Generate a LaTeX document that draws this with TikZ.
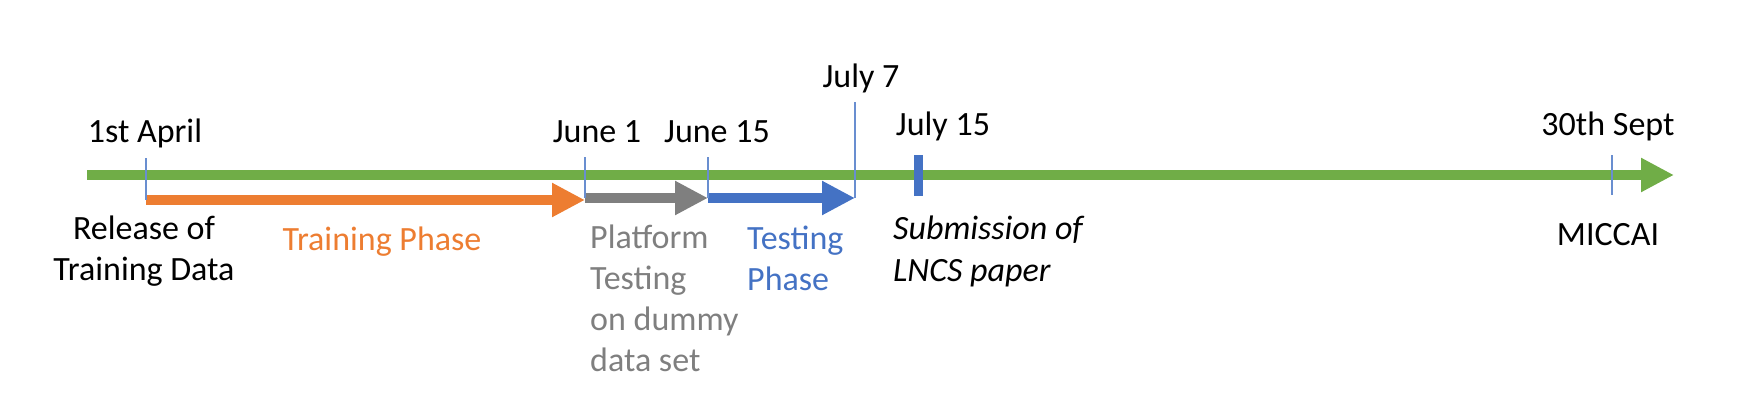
\documentclass[tikz,border=0pt]{standalone}
\usepackage{fontspec}
\setmainfont{Carlito}
\usetikzlibrary{arrows.meta}

\definecolor{axisgreen}{HTML}{70AD47}
\definecolor{trainorange}{HTML}{ED7D31}
\definecolor{platgray}{HTML}{7F7F7F}
\definecolor{testblue}{HTML}{4472C4}

\begin{document}
\begin{tikzpicture}[x=1pt, y=-1pt,
    txt/.style={font=\fontsize{34}{41}\selectfont, inner sep=0pt, anchor=base},
    phasearrow/.style={line width=10pt, -{Triangle[length=33pt,width=32pt]}},
    datemark/.style={draw=testblue!80, line width=1.2pt}]

        % Fix the page size to the reference
        \useasboundingbox (0,0) rectangle (1742,404);

        % Points on the time line (top and bottom of each date mark)
        \foreach \name/\x/\top/\bot in {apr/146/158/200, junA/585/157/198,
                junB/708/157/198, julA/855/102/198, julB/918/155/196, sep/1612/155/195} {
            \coordinate (\name-t) at (\x,\top);
            \coordinate (\name-b) at (\x,\bot);
        }
        \coordinate (start) at (87,175);
        \coordinate (end) at (1674,175);

        % Draw the main time line
        \draw[phasearrow, axisgreen] (start) -- (end);

        % Draw the phases
        \draw[phasearrow, trainorange] (apr-b) -- (junA-b |- 0,200);
        \draw[phasearrow, platgray] (junA-b) -- (junB-b);
        \draw[phasearrow, testblue] (junB-b) -- (julA-b);

        % Date marks
        \foreach \name in {apr, junA, junB, julA, sep}
            \draw[datemark] (\name-t) -- (\name-b);
        \draw[testblue, line width=9pt] (julB-t) -- (julB-b);

        % Dates above the line
        \node[txt] (d-apr) at (145,142) {1st April};
        \node[txt] (d-junA) at (597,142) {June 1};
        \node[txt] (d-junB) at (717,142) {June 15};
        \node[txt] (d-julA) at (861,87) {July 7};
        \node[txt] (d-julB) at (943,135) {July 15};
        \node[txt] (d-sep) at (1608,135) {30th Sept};

        % Events below the line (base is the last line)
        \node[txt, align=center] (release) at (144,280) {Release of\\Training Data};
        \node[txt, text=trainorange] (training) at (382,250) {Training Phase};
        \node[txt, anchor=base west, align=left, text=platgray] (platform) at (590,371)
            {Platform\\Testing\\on dummy\\data set};
        \node[txt, anchor=base west, align=left, text=testblue] (testing) at (747,290)
            {Testing\\Phase};
        \node[txt, anchor=base west, align=left, font=\fontsize{34}{42}\selectfont\itshape]
            (lncs) at (893,281) {Submission of\\LNCS paper};
        \node[txt] (miccai) at (1608,245) {MICCAI};
    \end{tikzpicture}
\end{document}
